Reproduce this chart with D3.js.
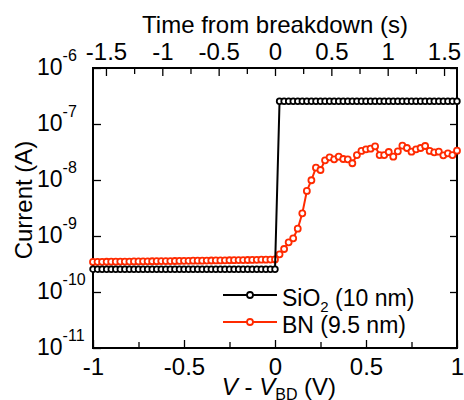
<!DOCTYPE html>
<html>
<head>
<meta charset="utf-8">
<script src="https://cdn.jsdelivr.net/npm/d3@7"></script>
<style>
  body { margin: 0; background: #fff; }
  svg { font-family: "Liberation Sans", Arial, sans-serif; }
</style>
</head>
<body>
<div id="chart"></div>
<script>
// V - V_BD (V), sampled every 25 mV
const voltage = [
  -1, -0.975, -0.95, -0.925, -0.9, -0.875, -0.85, -0.825, -0.8, -0.775,
  -0.75, -0.725, -0.7, -0.675, -0.65, -0.625, -0.6, -0.575, -0.55, -0.525,
  -0.5, -0.475, -0.45, -0.425, -0.4, -0.375, -0.35, -0.325, -0.3, -0.275,
  -0.25, -0.225, -0.2, -0.175, -0.15, -0.125, -0.1, -0.075, -0.05, -0.025,
  0,
  0.025, 0.05, 0.075, 0.1, 0.125, 0.15, 0.175, 0.2, 0.225, 0.25,
  0.275, 0.3, 0.325, 0.35, 0.375, 0.4, 0.425, 0.45, 0.475, 0.5,
  0.525, 0.55, 0.575, 0.6, 0.625, 0.65, 0.675, 0.7, 0.725, 0.75,
  0.775, 0.8, 0.825, 0.85, 0.875, 0.9, 0.925, 0.95, 0.975, 1
];

// SiO2 (10 nm) current (A)
const sio2Current = [
  2.55e-10, 2.55e-10, 2.55e-10, 2.55e-10, 2.55e-10, 2.55e-10, 2.55e-10, 2.55e-10, 2.55e-10, 2.55e-10,
  2.55e-10, 2.55e-10, 2.55e-10, 2.55e-10, 2.55e-10, 2.55e-10, 2.55e-10, 2.55e-10, 2.55e-10, 2.55e-10,
  2.55e-10, 2.55e-10, 2.55e-10, 2.55e-10, 2.55e-10, 2.55e-10, 2.55e-10, 2.55e-10, 2.55e-10, 2.55e-10,
  2.55e-10, 2.55e-10, 2.55e-10, 2.55e-10, 2.55e-10, 2.55e-10, 2.55e-10, 2.55e-10, 2.55e-10, 2.55e-10,
  2.55e-10,
  2.55e-7, 2.55e-7, 2.55e-7, 2.55e-7, 2.55e-7, 2.55e-7, 2.55e-7, 2.55e-7, 2.55e-7, 2.55e-7,
  2.55e-7, 2.55e-7, 2.55e-7, 2.55e-7, 2.55e-7, 2.55e-7, 2.55e-7, 2.55e-7, 2.55e-7, 2.55e-7,
  2.55e-7, 2.55e-7, 2.55e-7, 2.55e-7, 2.55e-7, 2.55e-7, 2.55e-7, 2.55e-7, 2.55e-7, 2.55e-7,
  2.55e-7, 2.55e-7, 2.55e-7, 2.55e-7, 2.55e-7, 2.55e-7, 2.55e-7, 2.55e-7, 2.55e-7, 2.55e-7
];

// BN (9.5 nm) current (A)
const bnCurrent = [
  3.45e-10, 3.46e-10, 3.46e-10, 3.47e-10, 3.48e-10, 3.48e-10, 3.49e-10, 3.50e-10, 3.50e-10, 3.51e-10,
  3.52e-10, 3.53e-10, 3.53e-10, 3.54e-10, 3.55e-10, 3.56e-10, 3.57e-10, 3.57e-10, 3.58e-10, 3.59e-10,
  3.60e-10, 3.61e-10, 3.62e-10, 3.63e-10, 3.63e-10, 3.64e-10, 3.65e-10, 3.66e-10, 3.67e-10, 3.68e-10,
  3.69e-10, 3.70e-10, 3.71e-10, 3.72e-10, 3.73e-10, 3.74e-10, 3.75e-10, 3.77e-10, 3.78e-10, 3.80e-10,
  3.82e-10,
  4.71e-10, 5.86e-10, 7.71e-10, 9.1e-10, 1.35e-9, 2.54e-9, 6.37e-9, 9.9e-9, 1.66e-8, 1.51e-8,
  2.25e-8, 2.54e-8, 2.34e-8, 2.61e-8, 2.37e-8, 2.34e-8, 1.99e-8, 2.79e-8, 3.30e-8, 3.53e-8,
  3.62e-8, 4.0e-8, 2.79e-8, 2.79e-8, 3.16e-8, 2.61e-8, 3.25e-8, 4.10e-8, 3.73e-8, 3.20e-8,
  3.53e-8, 3.73e-8, 4.05e-8, 3.30e-8, 3.12e-8, 3.20e-8, 2.76e-8, 3.0e-8, 2.79e-8, 3.34e-8
];

const vTicks = [-1, -0.5, 0, 0.5, 1];
const vMinorTicks = [-0.75, -0.25, 0.25, 0.75];
const tTicks = [-1.5, -1, -0.5, 0, 0.5, 1, 1.5];
const tMinorTicks = [-1.25, -0.75, -0.25, 0.25, 0.75, 1.25];
const yExponents = [-11, -10, -9, -8, -7, -6];

const series = [
  { label: "BN", note: " (9.5 nm)", values: bnCurrent, color: "#ff2a00", r: 3.0 },
  { label: "SiO", sub: "2", note: " (10 nm)", values: sio2Current, color: "#000000", r: 2.8 }
];

const W = 464, H = 400;
const margin = { top: 68, right: 7, bottom: 52, left: 93 };
const width = W - margin.left - margin.right;
const height = H - margin.top - margin.bottom;

const svg = d3.select("#chart")
  .append("svg")
  .attr("width", W)
  .attr("height", H);

const g = svg.append("g")
  .attr("transform", `translate(${margin.left},${margin.top})`);

const x = d3.scaleLinear().domain([-1, 1]).range([0, width]);
const xTime = d3.scaleLinear().domain([-1.615, 1.615]).range([0, width]);
const y = d3.scaleLog().domain([1e-11, 1e-6]).range([height, 0]);

const plain = d => String(d);  // keep the hyphen-minus, as in the original

// bottom axis
g.append("g")
  .attr("transform", `translate(0,${height})`)
  .call(d3.axisBottom(x).tickValues(vTicks).tickSizeInner(-8).tickSizeOuter(0)
    .tickPadding(10).tickFormat(plain));
g.append("g")
  .attr("transform", `translate(0,${height})`)
  .call(d3.axisBottom(x).tickValues(vMinorTicks).tickSizeInner(-6).tickSizeOuter(0).tickFormat(""));

// top axis
g.append("g")
  .call(d3.axisTop(xTime).tickValues(tTicks).tickSizeInner(-8).tickSizeOuter(0)
    .tickPadding(8).tickFormat(plain));
g.append("g")
  .call(d3.axisTop(xTime).tickValues(tMinorTicks).tickSizeInner(-6).tickSizeOuter(0).tickFormat(""));

// left / right axes
g.append("g")
  .call(d3.axisLeft(y).tickValues(yExponents.map(e => Math.pow(10, e)))
    .tickSizeInner(-8).tickSizeOuter(0).tickFormat(""));
g.append("g")
  .attr("transform", `translate(${width},0)`)
  .call(d3.axisRight(y).tickValues(yExponents.map(e => Math.pow(10, e)))
    .tickSizeInner(-7).tickSizeOuter(0).tickFormat(""));

g.selectAll(".domain").remove();
g.selectAll(".tick line").attr("stroke", "#000").attr("stroke-width", 1.3);
g.selectAll(".tick text")
  .attr("fill", "#000")
  .style("font-size", "24px");

// y tick labels: 10^n
const yLab = g.append("g");
yExponents.forEach(e => {
  const t = yLab.append("text")
    .attr("x", 37 - margin.left)
    .attr("y", y(Math.pow(10, e)) + 7)
    .style("font-size", "23px");
  t.append("tspan").text("10");
  t.append("tspan").attr("dy", -14).style("font-size", "16px").text(String(e));
});

// frame
g.append("rect")
  .attr("width", width)
  .attr("height", height)
  .attr("fill", "none")
  .attr("stroke", "#000")
  .attr("stroke-width", 2);

// data
const line = d3.line()
  .x((d, i) => x(voltage[i]))
  .y(d => y(d));

series.forEach(s => {
  g.append("path")
    .datum(s.values)
    .attr("d", line)
    .attr("fill", "none")
    .attr("stroke", s.color)
    .attr("stroke-width", 2);

  g.selectAll(null)
    .data(s.values)
    .enter()
    .append("circle")
    .attr("cx", (d, i) => x(voltage[i]))
    .attr("cy", d => y(d))
    .attr("r", s.r)
    .attr("fill", "#fff")
    .attr("stroke", s.color)
    .attr("stroke-width", 1.8);
});

// legend
const legendRows = [series[1], series[0]];
const legend = svg.selectAll(".legend")
  .data(legendRows)
  .enter()
  .append("g")
  .attr("class", "legend")
  .attr("transform", (d, i) => `translate(223,${295 + i * 27})`);

legend.append("line")
  .attr("x1", 0).attr("x2", 54)
  .attr("stroke", d => d.color)
  .attr("stroke-width", 2);
legend.append("circle")
  .attr("cx", 27)
  .attr("r", 3)
  .attr("fill", "#fff")
  .attr("stroke", d => d.color)
  .attr("stroke-width", 1.8);
const lt = legend.append("text")
  .attr("x", 59)
  .attr("y", 11)
  .style("font-size", "23px");
lt.append("tspan").text(d => d.label);
lt.filter(d => d.sub).append("tspan").attr("dy", 6).style("font-size", "15px").text(d => d.sub);
lt.filter(d => d.sub).append("tspan").attr("dy", -6).text(d => d.note);
lt.filter(d => !d.sub).append("tspan").text(d => d.note);

// axis titles
svg.append("text")
  .attr("x", 275)
  .attr("y", 33)
  .attr("text-anchor", "middle")
  .style("font-size", "24px")
  .text("Time from breakdown (s)");

const xt = svg.append("text")
  .attr("x", 279)
  .attr("y", 395)
  .attr("text-anchor", "middle")
  .style("font-size", "24px");
xt.append("tspan").style("font-style", "italic").text("V");
xt.append("tspan").text(" - ");
xt.append("tspan").style("font-style", "italic").text("V");
xt.append("tspan").attr("dy", 5).style("font-size", "16px").text("BD");
xt.append("tspan").attr("dy", -5).text(" (V)");

svg.append("text")
  .attr("transform", "translate(32,200) rotate(-90)")
  .attr("text-anchor", "middle")
  .style("font-size", "24px")
  .text("Current (A)");
</script>
</body>
</html>
